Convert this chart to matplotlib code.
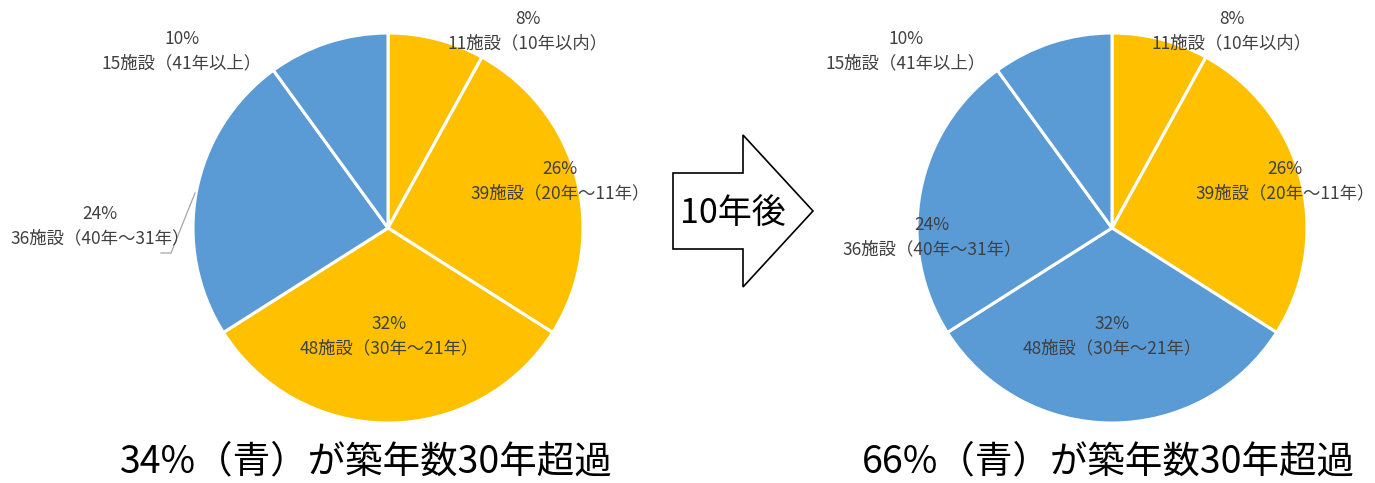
import matplotlib.pyplot as plt
from matplotlib.patches import FancyArrow

plt.rcParams['font.family'] = ['Noto Sans CJK JP', 'DejaVu Sans']

# 施設の築年数構成（現在と10年後で同じ区分・同じ割合）
shares = [8, 26, 32, 24, 10]
counts = [11, 39, 48, 36, 15]
ranges = ['10年以内', '20年～11年', '30年～21年', '40年～31年', '41年以上']

YELLOW = '#FFC000'
BLUE = '#5B9BD5'
colors_now = [YELLOW, YELLOW, YELLOW, BLUE, BLUE]
colors_later = [YELLOW, YELLOW, BLUE, BLUE, BLUE]
titles = ['34%（青）が築年数30年超過', '66%（青）が築年数30年超過']
arrow_text = '10年後'

fig = plt.figure(figsize=(13.75, 4.83), dpi=100)
ax = fig.add_axes([0, 0, 1, 1])

R = 195
centers = [(388, 228), (1112, 228)]
# ラベル位置（パイ中心からのオフセット、下向きが正）
offs_now = [(140, -197), (172, -47), (1, 108), (-288, -2), (-206, -177)]
offs_later = [(120, -197), (173, -47), (0, 108), (-180, 9), (-206, -177)]

for (cx, cy), cols, offs, title, tx in zip(centers, [colors_now, colors_later],
                                           [offs_now, offs_later], titles, [366, 1108]):
    # y軸を反転しているので、上から時計回りになるよう -90 度から反時計回りで描く
    ax.pie(shares, colors=cols, startangle=-90, counterclock=True, radius=R,
           center=(cx, cy), wedgeprops=dict(edgecolor='white', linewidth=2.2))
    for s, c, r, (dx, dy) in zip(shares, counts, ranges, offs):
        ax.text(cx + dx, cy + dy, f'{s}%\n{c}施設（{r}）', ha='center', va='center',
                fontsize=12.5, color='#404040', linespacing=1.45)
    ax.text(tx, 462, title, ha='center', va='center', fontsize=27, color='black')

# 左側 24% ラベルの引き出し線
ax.plot([195, 171, 161], [193, 253, 253], color='#a6a6a6', lw=0.9)

arrow = FancyArrow(673, 211, 140, 0, width=76, head_width=152, head_length=70,
                   length_includes_head=True, facecolor='white', edgecolor='black', lw=1.2)
ax.add_patch(arrow)
ax.text(733, 213, arrow_text, ha='center', va='center', fontsize=24.5, color='black')

ax.set_xlim(0, 1375)
ax.set_ylim(483, 0)
ax.set_aspect('auto')
ax.axis('off')
fig.savefig('out.png', dpi=100, facecolor='white')
